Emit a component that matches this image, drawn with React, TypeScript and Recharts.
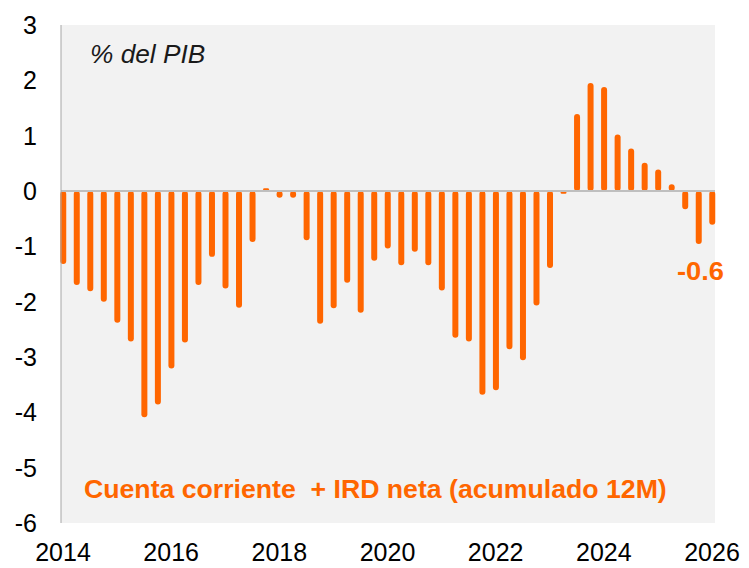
import { BarChart, Bar, XAxis, YAxis, CartesianGrid, ReferenceLine } from 'recharts';

// quarterly observations, as decimal years
const dates = [
  2014.0, 2014.25, 2014.5, 2014.75, 2015.0, 2015.25, 2015.5, 2015.75,
  2016.0, 2016.25, 2016.5, 2016.75, 2017.0, 2017.25, 2017.5, 2017.75,
  2018.0, 2018.25, 2018.5, 2018.75, 2019.0, 2019.25, 2019.5, 2019.75,
  2020.0, 2020.25, 2020.5, 2020.75, 2021.0, 2021.25, 2021.5, 2021.75,
  2022.0, 2022.25, 2022.5, 2022.75, 2023.0, 2023.25, 2023.5, 2023.75,
  2024.0, 2024.25, 2024.5, 2024.75, 2025.0, 2025.25, 2025.5, 2025.75,
  2026.0,
];

// cuenta corriente + IRD neta, % del PIB
const balance = [
  -1.32, -1.7, -1.81, -2.0, -2.38, -2.72, -4.09, -3.86,
  -3.21, -2.74, -1.7, -1.19, -1.76, -2.11, -0.92, 0.05,
  -0.12, -0.12, -0.89, -2.4, -2.12, -1.66, -2.2, -1.26,
  -1.04, -1.34, -1.1, -1.34, -1.8, -2.65, -2.72, -3.68,
  -3.6, -2.86, -3.06, -2.07, -1.39, -0.05, 1.39, 1.95,
  1.88, 1.02, 0.77, 0.51, 0.39, 0.12, -0.33, -0.96,
  -0.61,
];

const xTicks = [2014, 2016, 2018, 2020, 2022, 2024, 2026];
const yTicks = [-6, -5, -4, -3, -2, -1, 0, 1, 2, 3];

const data = dates.map((d, i) => ({ date: d, value: balance[i] }));

const ORANGE = '#FF6600';
const FONT = '"Liberation Sans", Arial, sans-serif';

export default function App() {
  const last = balance[balance.length - 1];
  return (
    <div style={{ position: 'absolute', left: 0, top: 0, width: 749, height: 568, background: '#FFFFFF', fontFamily: FONT }}>
      <BarChart width={749} height={568} data={data} margin={{ top: 25, right: 34, bottom: 0, left: 0 }}>
        <CartesianGrid horizontal={false} vertical={false} fill="#F2F2F2" stroke="none" />
        <XAxis
          dataKey="date"
          type="number"
          domain={[2013.963, 2026.055]}
          ticks={xTicks}
          height={45}
          axisLine={false}
          tickLine={false}
          tickSize={6}
          tickMargin={14}
          tick={{ fill: '#000000', fontSize: 25, fontFamily: FONT }}
          interval={0}
        />
        <YAxis
          domain={[-6, 3]}
          ticks={yTicks}
          width={61}
          axisLine={{ stroke: '#A6A6A6', strokeWidth: 1 }}
          tickLine={false}
          tickSize={6}
          tickMargin={18}
          tick={{ fill: '#000000', fontSize: 25, fontFamily: FONT }}
          interval={0}
        />
        <ReferenceLine y={0} stroke="#BFBFBF" strokeWidth={2} />
        <Bar dataKey="value" fill={ORANGE} barSize={6} radius={3} isAnimationActive={false} />
      </BarChart>
      <div style={{ position: 'absolute', left: 90, top: 42, fontSize: 25, lineHeight: '25px', fontStyle: 'italic', color: '#1A1A1A', whiteSpace: 'nowrap', transform: 'scaleX(1.05)', transformOrigin: 'left center' }}>
        % del PIB
      </div>
      <div style={{ position: 'absolute', left: 84, top: 477, fontSize: 25, lineHeight: '25px', fontWeight: 'bold', color: ORANGE, whiteSpace: 'pre', transform: 'scaleX(1.066)', transformOrigin: 'left center' }}>
        {'Cuenta corriente  + IRD neta (acumulado 12M)'}
      </div>
      <div style={{ position: 'absolute', left: 677, top: 259, fontSize: 25, lineHeight: '25px', fontWeight: 'bold', color: ORANGE, whiteSpace: 'nowrap', transform: 'scaleX(1.09)', transformOrigin: 'left center' }}>
        {last.toFixed(1)}
      </div>
    </div>
  );
}
